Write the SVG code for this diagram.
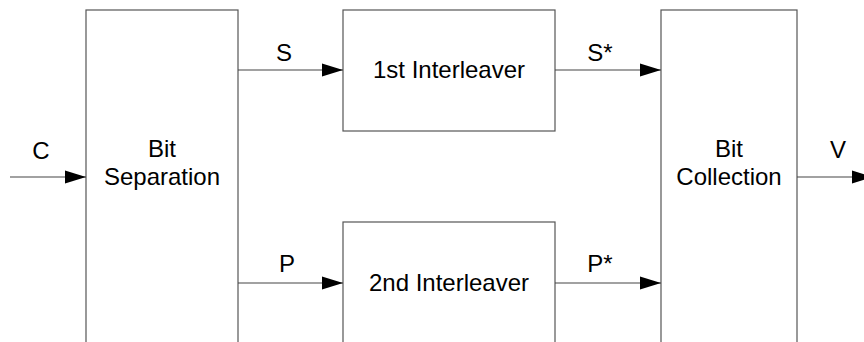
<svg xmlns="http://www.w3.org/2000/svg" width="864" height="342" viewBox="0 0 864 342">
<style>
.box{fill:#fff;stroke:#555;stroke-width:1.2}
.line{stroke:#444;stroke-width:1.2;fill:none}
text{font-family:"Liberation Sans",Arial,sans-serif;font-size:24px;fill:#000;text-anchor:middle}
</style>
<defs>
<marker id="arr" markerUnits="userSpaceOnUse" markerWidth="22" markerHeight="14" refX="21" refY="7" orient="auto">
<path d="M0,0.5 L21,7 L0,13.5 Z" fill="#000"/>
</marker>
</defs>
<g id="bit-separation">
<rect class="box" x="86" y="10" width="152" height="340"/>
<text x="162" y="157">Bit</text>
<text x="162" y="185">Separation</text>
</g>
<g id="interleaver1">
<rect class="box" x="343" y="10" width="212" height="121"/>
<text x="449" y="78">1st Interleaver</text>
</g>
<g id="interleaver2">
<rect class="box" x="343" y="222" width="212" height="130"/>
<text x="449" y="291">2nd Interleaver</text>
</g>
<g id="bit-collection">
<rect class="box" x="661" y="10" width="136" height="340"/>
<text x="729" y="157">Bit</text>
<text x="729" y="185">Collection</text>
</g>
<g id="connectors">
<line class="line" x1="10" y1="177" x2="86" y2="177" marker-end="url(#arr)"/>
<line class="line" x1="238" y1="70" x2="343" y2="70" marker-end="url(#arr)"/>
<line class="line" x1="238" y1="283" x2="343" y2="283" marker-end="url(#arr)"/>
<line class="line" x1="555" y1="70" x2="661" y2="70" marker-end="url(#arr)"/>
<line class="line" x1="555" y1="283" x2="661" y2="283" marker-end="url(#arr)"/>
<line class="line" x1="797" y1="177" x2="873" y2="177" marker-end="url(#arr)"/>
<text x="41" y="159">C</text>
<text x="284" y="61">S</text>
<text x="600" y="61">S*</text>
<text x="287" y="272">P</text>
<text x="600" y="272">P*</text>
<text x="838" y="158">V</text>
</g>
</svg>
